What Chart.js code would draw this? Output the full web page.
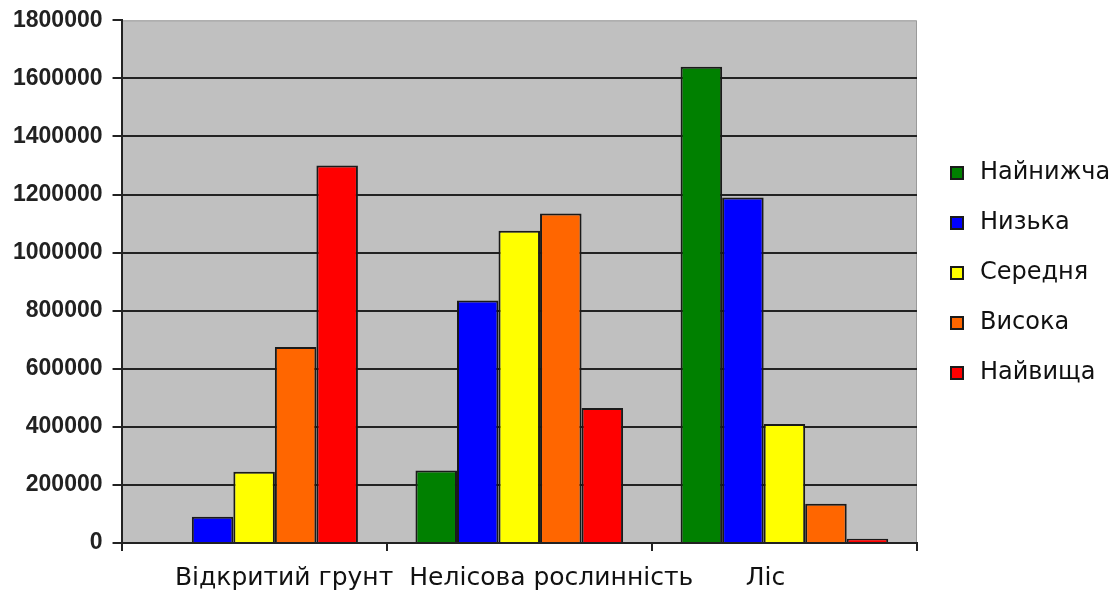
<!DOCTYPE html>
<html>
<head>
<meta charset="utf-8">
<script src="https://cdn.jsdelivr.net/npm/chart.js@4/dist/chart.umd.min.js"></script>
<style>
  html, body { margin: 0; padding: 0; background: #fff; }
  canvas { display: block; }
</style>
</head>
<body>
<canvas id="chart" width="1120" height="595"></canvas>
<script>
// Land cover categories and the five classes plotted for each
const categories = ['Відкритий грунт', 'Нелісова рослинність', 'Ліс'];
const seriesNames = ['Найнижча', 'Низька', 'Середня', 'Висока', 'Найвища'];

const lowest  = [0,       250000,  1640000];
const low     = [90000,   835000,  1190000];
const medium  = [245000,  1075000, 410000];
const high    = [675000,  1135000, 135000];
const highest = [1300000, 465000,  15000];

const seriesValues = [lowest, low, medium, high, highest];
const seriesColors = ['#008000', '#0000ff', '#ffff00', '#ff6600', '#ff0000'];

// Grey plot area behind the bars
const plotBackground = {
  id: 'plotBackground',
  beforeDraw(chart) {
    const { ctx, chartArea: a } = chart;
    ctx.save();
    ctx.fillStyle = '#c0c0c0';
    ctx.fillRect(a.left, a.top, a.right - a.left, a.bottom - a.top);
    ctx.strokeStyle = '#9a9a9a';
    ctx.lineWidth = 1;
    ctx.beginPath();
    ctx.moveTo(a.left, a.top + 0.5);
    ctx.lineTo(a.right - 0.5, a.top + 0.5);
    ctx.lineTo(a.right - 0.5, a.bottom);
    ctx.stroke();
    ctx.restore();
  }
};

// Category names under the axis, nudged sideways a little
const labelNudge = [30, 32, -19];
const categoryLabels = {
  id: 'categoryLabels',
  afterDraw(chart) {
    const { ctx, chartArea: a } = chart;
    const x = chart.scales.x;
    ctx.save();
    ctx.font = '25px "DejaVu Sans"';
    ctx.fillStyle = '#111';
    ctx.textAlign = 'center';
    ctx.textBaseline = 'alphabetic';
    categories.forEach((c, i) => {
      ctx.fillText(c, x.getPixelForValue(i) + labelNudge[i], a.bottom + 42);
    });
    ctx.restore();
  }
};

// Legend column to the right of the plot: small bordered square + class name
const sideLegend = {
  id: 'sideLegend',
  afterDraw(chart) {
    const { ctx, chartArea: a } = chart;
    const boxLeft = a.right + 34;
    const firstY = 173;
    const step = 50;
    ctx.save();
    ctx.font = '24px "DejaVu Sans"';
    ctx.textBaseline = 'middle';
    ctx.textAlign = 'left';
    chart.data.datasets.forEach((ds, i) => {
      const cy = firstY + i * step;
      ctx.fillStyle = ds.backgroundColor;
      ctx.fillRect(boxLeft, cy - 6, 12, 12);
      ctx.strokeStyle = '#1a1a1a';
      ctx.lineWidth = 2;
      ctx.strokeRect(boxLeft, cy - 6, 12, 12);
      ctx.fillStyle = '#111';
      ctx.fillText(ds.label, boxLeft + 29, cy);
    });
    ctx.restore();
  }
};

new Chart(document.getElementById('chart'), {
  type: 'bar',
  data: {
    labels: categories,
    datasets: seriesNames.map((name, i) => ({
      label: name,
      data: seriesValues[i],
      backgroundColor: seriesColors[i],
      borderColor: '#1a1a1a',
      borderWidth: 2,
      borderSkipped: 'bottom',
      categoryPercentage: 0.783,
      barPercentage: 1.0
    }))
  },
  options: {
    responsive: false,
    animation: false,
    layout: { padding: { left: 3, top: 0, right: 203, bottom: 44 } },
    plugins: {
      tooltip: { enabled: false },
      legend: { display: false }
    },
    scales: {
      x: {
        ticks: { display: false },
        grid: {
          display: true,
          drawOnChartArea: false,
          drawTicks: true,
          tickLength: 8,
          color: '#222',
          lineWidth: 2
        },
        border: { display: true, color: '#222', width: 2 }
      },
      y: {
        min: 0,
        max: 1800000,
        ticks: {
          stepSize: 200000,
          padding: 10,
          color: '#222',
          font: { family: '"Liberation Sans Narrow", "Liberation Sans"', size: 23, weight: 'bold', lineHeight: 0.9 },
          callback: v => String(v)
        },
        grid: {
          color: ctx => (ctx.tick && ctx.tick.value === 1800000) ? 'rgba(0,0,0,0)' : '#222',
          lineWidth: 2,
          tickLength: 9,
          tickColor: '#222'
        },
        border: { display: true, color: '#222', width: 2 }
      }
    }
  },
  plugins: [plotBackground, categoryLabels, sideLegend]
});
</script>
</body>
</html>
